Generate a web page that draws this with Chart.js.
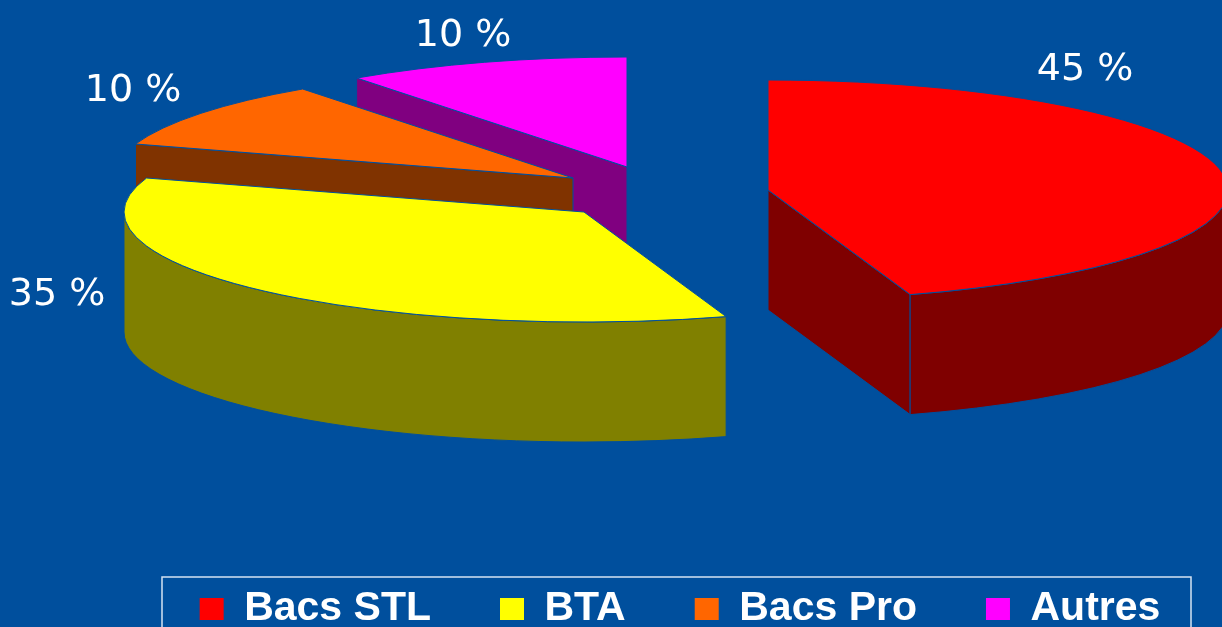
<!DOCTYPE html>
<html>
<head>
<meta charset="utf-8">
<title>Bacs</title>
<script src="https://cdn.jsdelivr.net/npm/chart.js@4"></script>
<style>
  html, body { margin: 0; padding: 0; background: #004f9d; overflow: hidden; }
  canvas { display: block; }
</style>
</head>
<body>
<canvas id="chartBacs" width="1222" height="627"></canvas>
<script>
// data
const categories = ["Bacs STL", "BTA", "Bacs Pro", "Autres"];
const valeurs = [45, 35, 10, 10];

// colours
const BG = "#004f9d";
const topColors = ["#ff0000", "#ffff00", "#ff6600", "#ff00ff"];
const sideColors = ["#7f0000", "#808000", "#803300", "#800080"];

// 3D look: each exploded slice has its own apex, ellipse ratio and wall height
const RADIUS = 460;
const TILT = 110 / 460;
const DEPTH = 120;
const apex = [{ x: 768, y: 190 }, { x: 584, y: 212 }, { x: 573, y: 178 }, { x: 627, y: 167 }];
const labelPos = [{ x: 1085, y: 70 }, { x: 57, y: 295 }, { x: 133, y: 91 }, { x: 463, y: 36 }];
const LEGEND_FONT = 41;
const LEGEND_GAP = 69;

function rim(c, r, a) {
  return { x: c.x + r * Math.cos(a), y: c.y + r * TILT * Math.sin(a) };
}

function paintShape(ctx, color) {
  ctx.fillStyle = color;
  ctx.fill();
  ctx.lineWidth = 1;
  ctx.strokeStyle = BG;
  ctx.stroke();
}

function radialWall(ctx, c, r, a, color) {
  const p = rim(c, r, a);
  ctx.beginPath();
  ctx.moveTo(c.x, c.y);
  ctx.lineTo(p.x, p.y);
  ctx.lineTo(p.x, p.y + DEPTH);
  ctx.lineTo(c.x, c.y + DEPTH);
  ctx.closePath();
  paintShape(ctx, color);
}

const pie3d = {
  id: "pie3d",
  afterLayout(chart) {
    // legend sits low in the frame, partly cut by the page bottom
    const lg = chart.legend;
    lg.left += 69;
    lg.right += 69;
    lg.top = 609 - LEGEND_GAP - LEGEND_FONT / 2;
  },
  beforeDatasetDraw(chart) {
    const ctx = chart.ctx;
    const arcs = chart.getDatasetMeta(0).data;
    // back to front
    for (let i = arcs.length - 1; i >= 0; i--) {
      const { startAngle, endAngle, outerRadius } = arcs[i].getProps(["startAngle", "endAngle", "outerRadius"], true);
      const c = apex[i];
      const rx = outerRadius;
      const ry = outerRadius * TILT;

      // flat cut faces, only when they turn towards the viewer
      if (Math.cos(startAngle) < -1e-6) radialWall(ctx, c, rx, startAngle, sideColors[i]);
      if (Math.cos(endAngle) > 1e-6) radialWall(ctx, c, rx, endAngle, sideColors[i]);

      // curved wall, only the part facing the viewer
      const a0 = Math.max(startAngle, 0);
      const a1 = Math.min(endAngle, Math.PI);
      if (a0 < a1) {
        ctx.beginPath();
        ctx.ellipse(c.x, c.y, rx, ry, 0, a0, a1);
        ctx.ellipse(c.x, c.y + DEPTH, rx, ry, 0, a1, a0, true);
        ctx.closePath();
        paintShape(ctx, sideColors[i]);
      }

      // top face
      ctx.beginPath();
      ctx.moveTo(c.x, c.y);
      ctx.ellipse(c.x, c.y, rx, ry, 0, startAngle, endAngle);
      ctx.closePath();
      paintShape(ctx, topColors[i]);
    }
    return false;
  },
  afterDraw(chart) {
    const ctx = chart.ctx;
    ctx.save();
    ctx.fillStyle = "#ffffff";
    ctx.font = '38px "DejaVu Sans"';
    ctx.textAlign = "center";
    ctx.textBaseline = "middle";
    valeurs.forEach((v, i) => ctx.fillText(v + " %", labelPos[i].x, labelPos[i].y));
    // legend frame
    ctx.strokeStyle = "#d5e3f2";
    ctx.lineWidth = 1.5;
    ctx.strokeRect(162, 577, 1029, 70);
    ctx.restore();
  },
};

new Chart(document.getElementById("chartBacs"), {
  type: "pie",
  data: {
    labels: categories,
    datasets: [{ data: valeurs, backgroundColor: topColors, borderWidth: 0 }],
  },
  options: {
    responsive: false,
    animation: false,
    radius: RADIUS,
    plugins: {
      tooltip: { enabled: false },
      legend: {
        position: "bottom",
        labels: {
          color: "#ffffff",
          font: { family: '"Liberation Sans"', size: LEGEND_FONT, weight: "bold" },
          boxWidth: 24,
          boxHeight: 22,
          padding: LEGEND_GAP,
        },
      },
    },
  },
  plugins: [pie3d],
});
</script>
</body>
</html>
